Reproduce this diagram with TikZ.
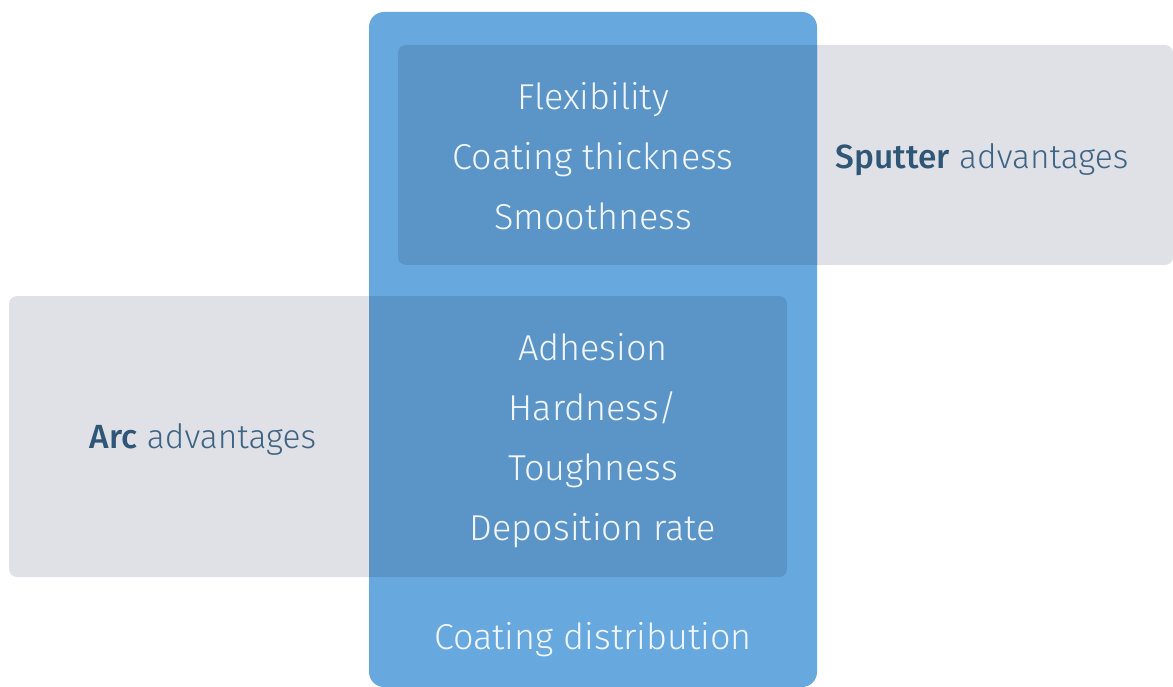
\documentclass[tikz,border=0pt]{standalone}
\usepackage{fontspec}
\setmainfont{Fira Sans}[UprightFont={* Light},BoldFont={* Medium}]
\definecolor{panelblue}{HTML}{67A9DE}
\definecolor{overlapblue}{HTML}{5B95C8}
\definecolor{panelgrey}{HTML}{E0E1E6}
\definecolor{labelink}{HTML}{3E6485}
\definecolor{labelbold}{HTML}{2F5676}
\definecolor{softwhite}{HTML}{F2F6FA}
\tikzset{
  greypanel/.style={fill=panelgrey, rounded corners=8pt},
  bluepanel/.style={fill=panelblue, rounded corners=15pt},
  overlap/.style={fill=overlapblue, rounded corners=8pt},
  innertext/.style={text=softwhite, align=center, inner sep=0pt,
    font=\fontsize{36}{60}\selectfont},
  sidetext/.style={text=labelink, inner sep=0pt,
    font=\fontsize{33.5}{38}\selectfont}
}
\begin{document}
\begin{tikzpicture}[x=1pt,y=-1pt]
\useasboundingbox (0,0) rectangle (1173,687);
% grey side panels
\path[greypanel] (398,45) rectangle (1173,265);
\path[greypanel] (9,296) rectangle (787,577);
% tall blue column
\path[bluepanel] (369,12) rectangle (817,687);
% shared regions: grey panels seen through the column
\begin{scope}
  \clip (369,12) rectangle (817,687);
  \path[overlap] (398,45) rectangle (1173,265);
  \path[overlap] (9,296) rectangle (787,577);
\end{scope}
% texts
\node[innertext] (sput) at (593,156) {Flexibility\\Coating thickness\\Smoothness};
\node[innertext] (arc) at (593,441) {Adhesion\\Hardness/\\Toughness\\Deposition rate};
\node[innertext] (dist) at (593,640) {Coating distribution};
\node[sidetext] (sputlbl) at (982,160) {\textbf{\color{labelbold}Sputter} advantages};
\node[sidetext] (arclbl) at (203,439) {\textbf{\color{labelbold}Arc} advantages};
\end{tikzpicture}
\end{document}
